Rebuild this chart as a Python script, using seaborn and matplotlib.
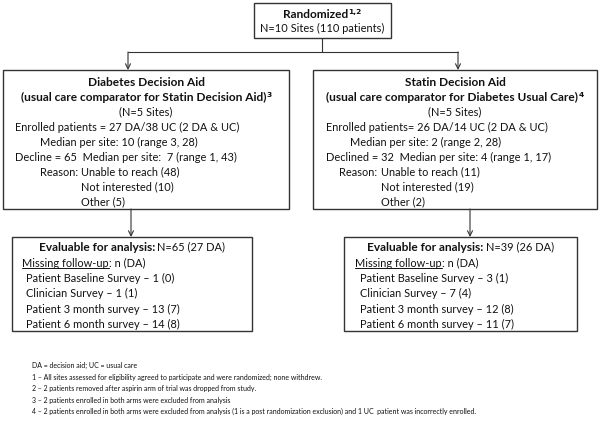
import matplotlib.pyplot as plt
import seaborn as sns
from matplotlib.patches import Rectangle

sns.set_style("white")
plt.rcParams['font.family'] = ['Lato', 'DejaVu Sans']

# ---- content -------------------------------------------------------------
top_title = "Randomized"
top_sup = "1,2"
top_line = "N=10 Sites (110 patients)"

arm_titles = ["Diabetes Decision Aid", "Statin Decision Aid"]
arm_subtitles = ["(usual care comparator for Statin Decision Aid)",
                 "(usual care comparator for Diabetes Usual Care)"]
arm_sups = ["3", "4"]
arm_sites = ["(N=5 Sites)", "(N=5 Sites)"]
enrolled = ["Enrolled patients = 27 DA/38 UC (2 DA & UC)",
            "Enrolled patients= 26 DA/14 UC (2 DA & UC)"]
median_enrolled = ["Median per site: 10 (range 3, 28)",
                   "Median per site: 2 (range 2, 28)"]
declined = ["Decline = 65  Median per site:  7 (range 1, 43)",
            "Declined = 32  Median per site: 4 (range 1, 17)"]
reasons = ["Unable to reach", "Not interested", "Other"]
reason_counts = [[48, 10, 5], [11, 19, 2]]

evaluable_n = [65, 39]
evaluable_da = [27, 26]
missing_items = ["Patient Baseline Survey", "Clinician Survey",
                 "Patient 3 month survey", "Patient 6 month survey"]
missing_n = [[1, 1, 13, 14], [3, 7, 12, 11]]
missing_da = [[0, 1, 7, 8], [1, 4, 8, 7]]

footnotes = [
    "DA = decision aid; UC = usual care",
    "1 \u2013 All sites assessed for eligibility agreed to participate and were randomized; none withdrew.",
    "2 \u2013 2 patients removed after aspirin arm of trial was dropped from study.",
    "3 \u2013 2 patients enrolled in both arms were excluded from analysis",
    "4 \u2013 2 patients enrolled in both arms were excluded from analysis (1 is a post randomization exclusion) and 1 UC  patient was incorrectly enrolled.",
]

# ---- canvas (1 data unit = 1 pixel) --------------------------------------
fig = plt.figure(figsize=(6, 4.37), dpi=100)
ax = fig.add_axes([0, 0, 1, 1])
ax.set_xlim(0, 600)
ax.set_ylim(437, 0)
ax.axis('off')
renderer = fig.canvas.get_renderer()
INK = "#111111"
EDGE = "#333333"


def text_width(s, size, weight='normal', family=None):
    t = ax.text(0, 0, s, fontsize=size, fontweight=weight)
    if family:
        t.set_family(family)
    w = t.get_window_extent(renderer).width
    t.remove()
    return w


MAIN = 10 * 222 / text_width(enrolled[0], 10)
BOLD = 10 * 246 / text_width(arm_subtitles[0], 10, 'bold')
FOOT = 10 * 446 / text_width(footnotes[4], 10)
SUP = MAIN * 0.68
SUP_FAMILY = 'DejaVu Sans'
SPACE = MAIN * 100 / 72 * 0.23


def runs(x, y, parts, ha='left', underline_first=False):
    # parts: (text, size, weight, raise, gap_before); raised parts are superscripts
    widths = [text_width(s, sz, w, SUP_FAMILY if r else None) for s, sz, w, r, g in parts]
    total = sum(widths) + sum(SPACE for p in parts if p[4])
    x0 = x - total / 2 if ha == 'center' else x
    base = y + MAIN * 0.45
    for i, ((s, sz, w, r, g), wd) in enumerate(zip(parts, widths)):
        if g:
            x0 += SPACE
        t = ax.text(x0, base - r, s, fontsize=sz, fontweight=w, color=INK,
                    ha='left', va='baseline')
        if r:
            t.set_family(SUP_FAMILY)
        if underline_first and i == 0:
            ax.plot([x0, x0 + wd], [base + 1.6, base + 1.6], color=INK, lw=0.7)
        x0 += wd


def line(x, y, s, ha='left', weight='normal'):
    size = BOLD if weight == 'bold' else MAIN
    runs(x, y, [(s, size, weight, 0, False)], ha=ha)


def box(x0, y0, x1, y1):
    ax.add_patch(Rectangle((x0, y0), x1 - x0, y1 - y0, fill=False,
                           edgecolor=EDGE, lw=1.0))


def arrow(x, y0, y1):
    ax.annotate('', xy=(x, y1), xytext=(x, y0),
                arrowprops=dict(arrowstyle='->', color=EDGE, lw=0.8,
                                shrinkA=0, shrinkB=0, mutation_scale=9))


# ---- top box -------------------------------------------------------------
box(254, 3, 391, 38)
runs(322, 14, [(top_title, BOLD, 'bold', 0, False),
               (top_sup, SUP, 'bold', 4, False)], ha='center')
line(322, 28, top_line, ha='center')
ax.plot([322, 322], [38, 52], color=EDGE, lw=0.8)
ax.plot([128, 458], [52, 52], color=EDGE, lw=0.8)

# ---- arm boxes -----------------------------------------------------------
arm_box = [(3, 70, 289, 209), (313, 70, 597, 209)]
arm_cx = [146, 455]
feed_x = [128, 458]
x_main = [15, 326]
x_med = [40, 350]
x_reason = [40, 339]
x_col = [81, 381]
for k in range(2):
    arrow(feed_x[k], 52, arm_box[k][1])
    box(*arm_box[k])
    cx = arm_cx[k]
    line(cx, 82, arm_titles[k], ha='center', weight='bold')
    runs(cx, 97, [(arm_subtitles[k], BOLD, 'bold', 0, False),
                  (arm_sups[k], SUP, 'bold', 4, False)], ha='center')
    line(cx, 112, arm_sites[k], ha='center')
    line(x_main[k], 127, enrolled[k])
    line(x_med[k], 142, median_enrolled[k])
    line(x_main[k], 157, declined[k])
    line(x_reason[k], 172, "Reason:")
    for j, (r, c) in enumerate(zip(reasons, reason_counts[k])):
        line(x_col[k], 172 + 15 * j, f"{r} ({c})")

# ---- evaluable boxes -----------------------------------------------------
low_box = [(12, 237, 252, 331), (344, 237, 577, 331)]
low_feed = [131, 470]
x_miss = [22, 355]
x_item = [26, 360]
for k in range(2):
    arrow(low_feed[k], arm_box[k][3], low_box[k][1])
    box(*low_box[k])
    cx = (low_box[k][0] + low_box[k][2]) / 2
    runs(cx, 247, [("Evaluable for analysis:", BOLD, 'bold', 0, False),
                   (f"N={evaluable_n[k]} ({evaluable_da[k]} DA)", MAIN, 'normal', 0, True)],
         ha='center')
    runs(x_miss[k], 263, [("Missing follow-up", MAIN, 'normal', 0, False),
                          (": n (DA)", MAIN, 'normal', 0, False)], underline_first=True)
    for j, item in enumerate(missing_items):
        line(x_item[k], 278 + 15.5 * j,
             f"{item} \u2013 {missing_n[k][j]} ({missing_da[k][j]})")

# ---- footnotes -----------------------------------------------------------
foot_y = [365, 377, 389, 400, 411]
for s, y in zip(footnotes, foot_y):
    ax.text(32, y, s, fontsize=FOOT, color=INK, ha='left', va='center')

fig.savefig("out.png", dpi=100, facecolor='white')
